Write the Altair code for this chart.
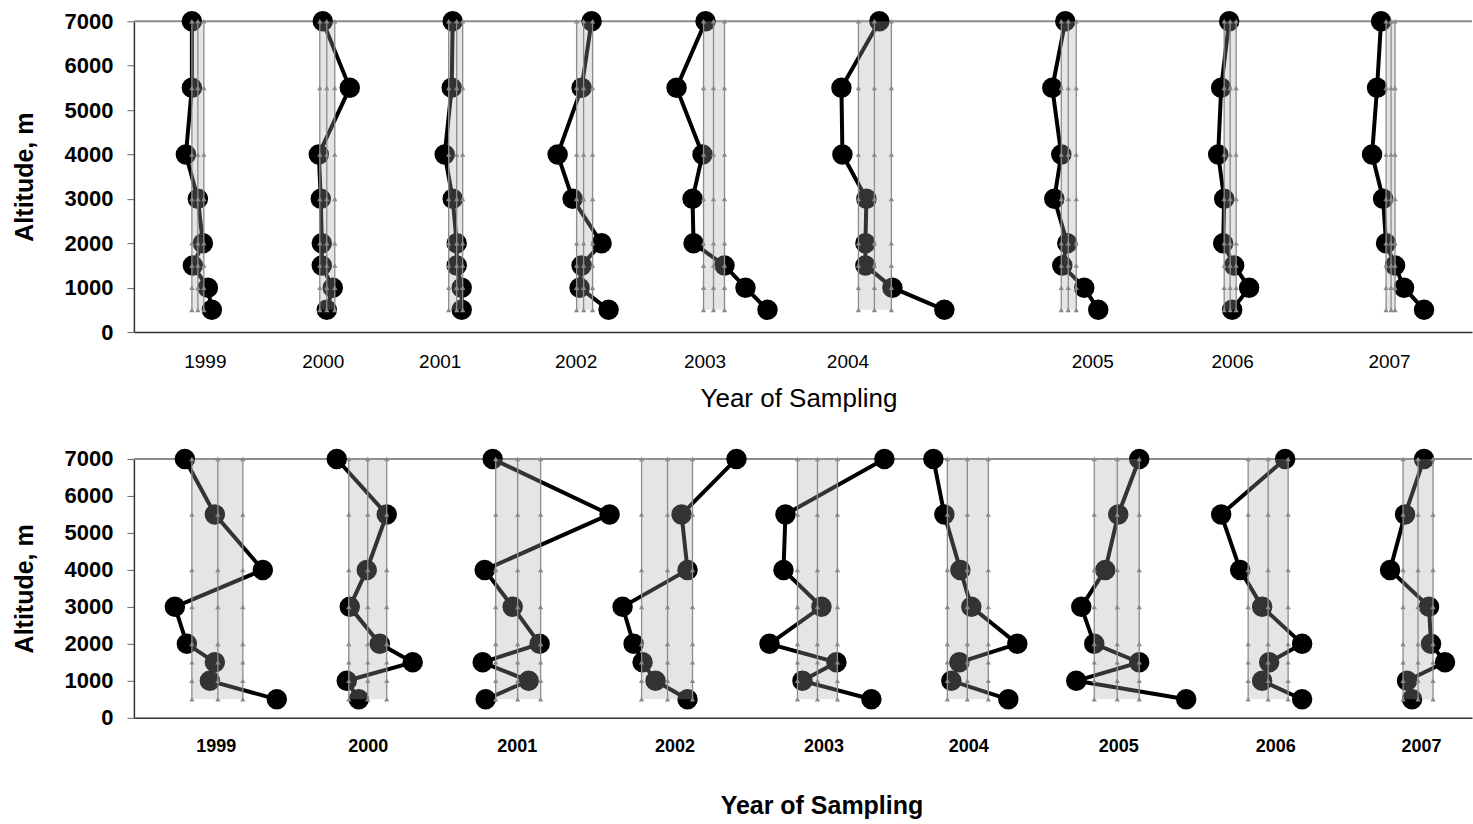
import altair as alt
import pandas as pd

FONT = "Liberation Sans"
ALT = [500, 1000, 1500, 2000, 3000, 4000, 5500, 7000]
YEARS = ["1999", "2000", "2001", "2002", "2003", "2004", "2005", "2006", "2007"]

# ---- top panel: measured positions along the x axis (axis units) ----
top_pts = {
    "1999": [212, 208, 193, 203, 198, 186, 192, 192],
    "2000": [327, 333, 322, 322, 321, 319, 350, 323],
    "2001": [462, 462, 457, 457, 453, 445, 452, 453],
    "2002": [609, 580, 582, 602, 573, 558, 582, 592],
    "2003": [768, 746, 725, 694, 693, 703, 677, 706],
    "2004": [945, 893, 866, 866, 867, 843, 842, 880],
    "2005": [1099, 1085, 1063, 1068, 1055, 1062, 1053, 1066],
    "2006": [1233, 1250, 1235, 1224, 1225, 1219, 1222, 1230],
    "2007": [1425, 1405, 1396, 1387, 1384, 1373, 1378, 1382],
}
top_lines = {
    "1999": [192, 198, 204], "2000": [320, 327, 335], "2001": [449, 457, 463],
    "2002": [577, 584, 593], "2003": [704, 714, 725], "2004": [859, 875, 892],
    "2005": [1062, 1069, 1077], "2006": [1225, 1231, 1237], "2007": [1387, 1392, 1396],
}
top_label_pos = [205, 323, 440, 576, 705, 848, 1093, 1233, 1390]

# ---- bottom panel ----
bot_pts = {
    "1999": [277, 210, 215, 187, 175, 263, 215, 185],
    "2000": [359, 347, 413, 380, 350, 367, 387, 337],
    "2001": [486, 529, 483, 540, 513, 485, 610, 493],
    "2002": [688, 656, 643, 634, 623, 688, 682, 737],
    "2003": [872, 803, 837, 770, 822, 784, 786, 885],
    "2004": [1009, 952, 960, 1018, 972, 961, 945, 934],
    "2005": [1187, 1077, 1140, 1095, 1082, 1106, 1119, 1140],
    "2006": [1303, 1263, 1270, 1303, 1263, 1241, 1222, 1286],
    "2007": [1413, 1408, 1446, 1432, 1430, 1391, 1406, 1425],
}
bot_lines = {
    "1999": [192, 218, 243], "2000": [349, 368, 387], "2001": [496, 518, 541],
    "2002": [642, 668, 693], "2003": [798, 818, 838], "2004": [948, 968, 989],
    "2005": [1095, 1118, 1140], "2006": [1249, 1269, 1289], "2007": [1404, 1419, 1434],
}
bot_label_pos = [216, 368, 517, 675, 824, 969, 1119, 1276, 1422]

Y_TICKS = [0, 1000, 2000, 3000, 4000, 5000, 6000, 7000]
XDOM = [134, 1473]


def panel(pts, lines, label_pos, h, bold_x, title_x, title_y, lab_pad, xlab_size, xtitle_size):
    pts_df = pd.DataFrame(
        [{"year": y, "alt": a, "x": v} for y in YEARS for a, v in zip(ALT, pts[y])]
    )
    band_df = pd.DataFrame(
        [{"year": y, "lo": lines[y][0], "hi": lines[y][2], "a0": ALT[0], "a1": ALT[-1]} for y in YEARS]
    )
    vline_df = pd.DataFrame(
        [{"year": y, "k": k, "x": lines[y][k], "a0": ALT[0], "a1": ALT[-1]} for y in YEARS for k in range(3)]
    )
    tri_df = pd.DataFrame(
        [{"year": y, "x": lines[y][k], "alt": a} for y in YEARS for k in range(3) for a in ALT]
    )
    top_df = pd.DataFrame({"x": [XDOM[0]], "alt": [7000]})

    label_expr = "[" + ",".join("'%s'" % y for y in YEARS) + "][indexof([" + ",".join(
        str(p) for p in label_pos) + "], datum.value)]"

    xscale = alt.Scale(domain=XDOM, nice=False, zero=False)
    yscale = alt.Scale(domain=[0, 7000], nice=False)

    xaxis = alt.Axis(
        values=label_pos, labelExpr=label_expr, ticks=False, grid=False,
        domainColor="#333333", domainWidth=1.5,
        labelFont=FONT, labelFontSize=xlab_size, labelFontWeight="bold" if bold_x else "normal",
        labelColor="black", labelPadding=lab_pad, labelFlush=False, labelOverlap=False,
        title="Year of Sampling", titleFont=FONT, titleFontSize=xtitle_size,
        titleFontWeight="bold" if bold_x else "normal", titleColor="black",
        titleX=title_x, titleY=title_y, titleBaseline="middle", titleAlign="center",
    )
    yaxis = alt.Axis(
        values=Y_TICKS, format="d", grid=False,
        tickSize=7, tickColor="#666666", domainColor="#333333", domainWidth=1.5,
        labelFont=FONT, labelFontSize=22, labelFontWeight="bold", labelColor="black",
        labelPadding=14, labelOverlap=False, labelFlush=False,
        title="Altitude, m", titleFont=FONT, titleFontSize=25, titleFontWeight="bold",
        titleColor="black", titleX=-109, titleBaseline="middle",
    )

    def X(field):
        return alt.X(field, scale=xscale, axis=xaxis)

    def Y(field):
        return alt.Y(field, scale=yscale, axis=yaxis)

    top_rule = alt.Chart(top_df).mark_rule(color="#8c8c8c", strokeWidth=2).encode(y=Y("alt:Q"))
    line = alt.Chart(pts_df).mark_line(color="black", strokeWidth=4).encode(
        x=X("x:Q"), y=Y("alt:Q"), detail="year:N", order="alt:Q",
    )
    dots = alt.Chart(pts_df).mark_circle(color="black", opacity=1, size=420).encode(
        x=X("x:Q"), y=Y("alt:Q")
    )
    band = alt.Chart(band_df).mark_rect(fill="#aaaaaa", opacity=0.3).encode(
        x=X("lo:Q"), x2="hi:Q", y=Y("a0:Q"), y2="a1:Q",
    )
    vlines = alt.Chart(vline_df).mark_rule(color="#8c8c8c", strokeWidth=1.3).encode(
        x=X("x:Q"), y=Y("a0:Q"), y2="a1:Q"
    )
    tris = alt.Chart(tri_df).mark_point(
        shape="triangle-up", filled=True, color="#8a8a8a", opacity=1, size=28
    ).encode(x=X("x:Q"), y=Y("alt:Q"))

    return alt.layer(top_rule, line, dots, band, vlines, tris).properties(width=1339, height=h)


top = panel(top_pts, top_lines, top_label_pos, 311, False, 665, 66, 20, 19, 26)
bottom = panel(bot_pts, bot_lines, bot_label_pos, 259, True, 688, 88, 20, 18, 25)

chart = alt.vconcat(top, bottom, spacing=37).properties(
    padding={"left": 12, "top": 10, "right": 0, "bottom": 0},
    background="white",
).configure_view(stroke=None, strokeWidth=0).configure_axis(labelOverlap=False)

chart.save("out.html", embed_options={"renderer": "svg", "actions": False})
